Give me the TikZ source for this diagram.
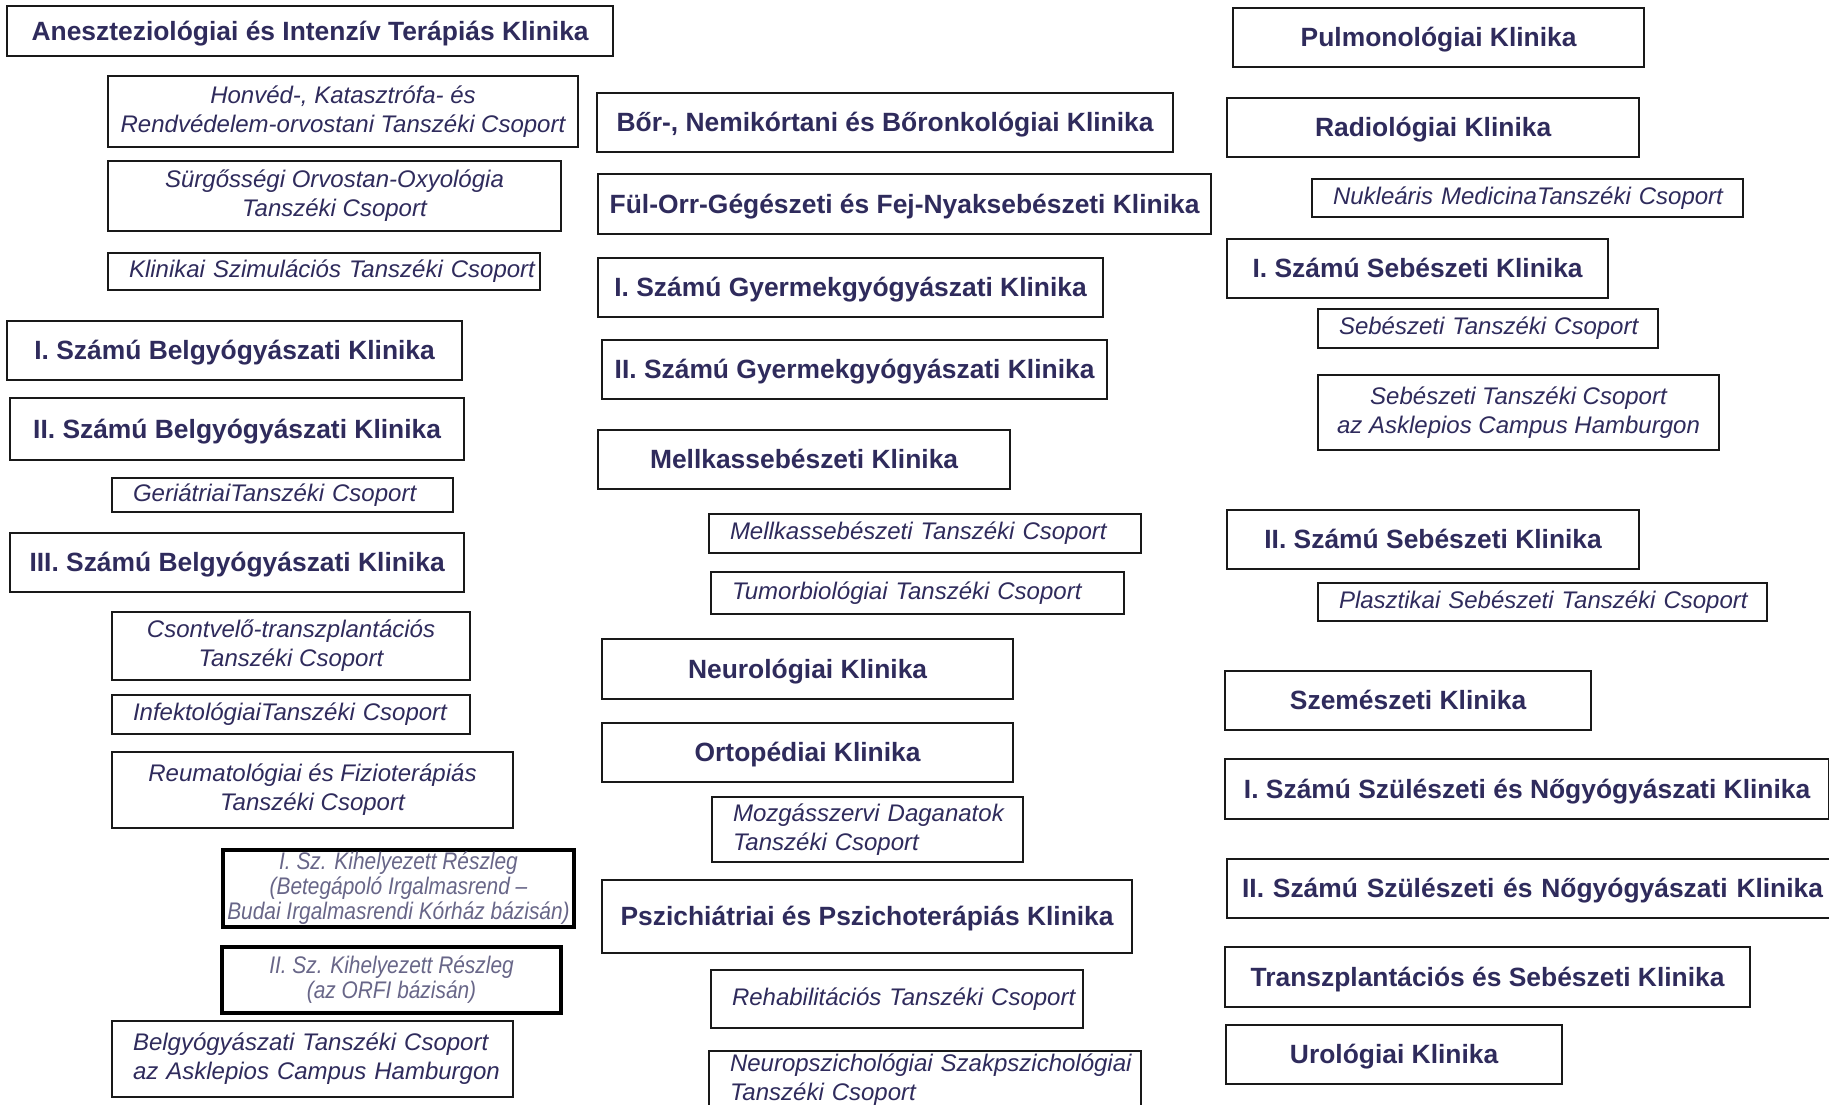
\documentclass[tikz,border=0pt]{standalone}
\usepackage{fontspec}
\setmainfont{Liberation Sans}
\newfontfamily\narrowfont[FakeStretch=0.87]{Liberation Sans}
\usepackage{xcolor}
\definecolor{klinikblue}{RGB}{47,43,92}
\definecolor{reszleggray}{RGB}{104,102,136}
\definecolor{framegray}{RGB}{25,25,25}

\tikzset{
  clinic/.style={draw=framegray, line width=2.2pt, anchor=north west, inner sep=2pt, align=center, text depth=0.12em, text=klinikblue, font=\fontsize{26.4}{30}\selectfont\bfseries},
  group/.style={draw=framegray, line width=2pt, anchor=north west, inner sep=2pt, align=center, text=klinikblue, font=\fontsize{24}{29}\selectfont\itshape},
  groupleft/.style={group, text width=#1, inner xsep=0pt, align=left, execute at begin node={\leftskip=21pt}},
  reszleg/.style={draw=black, line width=4pt, anchor=north west, inner sep=2pt, align=center, text=reszleggray, font=\narrowfont\fontsize{24}{25}\selectfont\itshape}
}

\begin{document}
\begin{tikzpicture}[x=1pt,y=-1pt]
    \useasboundingbox (0,0) rectangle (1829,1105);
    \fill[white] (0,0) rectangle (1829,1105);

    % Left column
    \node[clinic, minimum width=606pt, minimum height=50pt] (aneszt) at (6,5) {Aneszteziológiai és Intenzív Terápiás Klinika};
    \node[group, minimum width=470pt, minimum height=71pt] (honved) at (107,75) {Honvéd-, Katasztrófa- és\\Rendvédelem-orvostani Tanszéki Csoport};
    \node[group, minimum width=453pt, minimum height=70pt] (surgos) at (107,160) {Sürgősségi Orvostan-Oxyológia\\Tanszéki Csoport};
    \node[groupleft=432pt, minimum height=37pt] (szimul) at (107,252) {Klinikai Szimulációs Tanszéki Csoport};
    \node[clinic, minimum width=455pt, minimum height=59pt] (belgyI) at (6,320) {I. Számú Belgyógyászati Klinika};
    \node[clinic, minimum width=454pt, minimum height=62pt] (belgyII) at (9,397) {II. Számú Belgyógyászati Klinika};
    \node[groupleft=341pt, minimum height=34pt] (geriat) at (111,477) {GeriátriaiTanszéki Csoport};
    \node[clinic, minimum width=454pt, minimum height=59pt] (belgyIII) at (9,532) {III. Számú Belgyógyászati Klinika};
    \node[group, minimum width=358pt, minimum height=68pt] (csontv) at (111,611) {Csontvelő-transzplantációs\\Tanszéki Csoport};
    \node[groupleft=358pt, minimum height=39pt] (infekt) at (111,694) {InfektológiaiTanszéki Csoport};
    \node[group, minimum width=401pt, minimum height=76pt] (reuma) at (111,751) {Reumatológiai és Fizioterápiás\\Tanszéki Csoport};
    \node[reszleg, minimum width=351pt, minimum height=75pt] (reszlegI) at (221,848) {I. Sz. Kihelyezett Részleg\\(Betegápoló Irgalmasrend –\\Budai Irgalmasrendi Kórház bázisán)};
    \node[reszleg, minimum width=339pt, minimum height=66pt] (reszlegII) at (220,945) {II. Sz. Kihelyezett Részleg\\(az ORFI bázisán)};
    \node[groupleft=401pt, minimum height=76pt] (belgytcs) at (111,1020) {Belgyógyászati Tanszéki Csoport\\az Asklepios Campus Hamburgon};

    % Middle column
    \node[clinic, minimum width=576pt, minimum height=59pt] (bor) at (596,92) {Bőr-, Nemikórtani és Bőronkológiai Klinika};
    \node[clinic, minimum width=613pt, minimum height=60pt] (ful) at (597,173) {Fül-Orr-Gégészeti és Fej-Nyaksebészeti Klinika};
    \node[clinic, minimum width=505pt, minimum height=59pt] (gyermI) at (597,257) {I. Számú Gyermekgyógyászati Klinika};
    \node[clinic, minimum width=505pt, minimum height=59pt] (gyermII) at (601,339) {II. Számú Gyermekgyógyászati Klinika};
    \node[clinic, minimum width=412pt, minimum height=59pt] (mellkas) at (597,429) {Mellkassebészeti Klinika};
    \node[groupleft=432pt, minimum height=39pt] (mellktcs) at (708,513) {Mellkassebészeti Tanszéki Csoport};
    \node[groupleft=413pt, minimum height=42pt] (tumor) at (710,571) {Tumorbiológiai Tanszéki Csoport};
    \node[clinic, minimum width=411pt, minimum height=60pt] (neuro) at (601,638) {Neurológiai Klinika};
    \node[clinic, minimum width=411pt, minimum height=59pt] (orto) at (601,722) {Ortopédiai Klinika};
    \node[groupleft=311pt, minimum height=65pt] (mozgas) at (711,796) {Mozgásszervi Daganatok\\Tanszéki Csoport};
    \node[clinic, minimum width=530pt, minimum height=73pt] (pszich) at (601,879) {Pszichiátriai és Pszichoterápiás Klinika};
    \node[groupleft=372pt, minimum height=58pt] (rehab) at (710,969) {Rehabilitációs Tanszéki Csoport};
    \node[groupleft=432pt, minimum height=58pt] (neuropsz) at (708,1050) {Neuropszichológiai Szakpszichológiai\\Tanszéki Csoport};

    % Right column
    \node[clinic, minimum width=411pt, minimum height=59pt] (pulmo) at (1232,7) {Pulmonológiai Klinika};
    \node[clinic, minimum width=412pt, minimum height=59pt] (radio) at (1226,97) {Radiológiai Klinika};
    \node[groupleft=431pt, minimum height=38pt] (nukl) at (1311,178) {Nukleáris MedicinaTanszéki Csoport};
    \node[clinic, minimum width=381pt, minimum height=59pt] (sebI) at (1226,238) {I. Számú Sebészeti Klinika};
    \node[groupleft=340pt, minimum height=39pt] (sebtcs) at (1317,308) {Sebészeti Tanszéki Csoport};
    \node[group, minimum width=401pt, minimum height=75pt] (sebask) at (1317,374) {Sebészeti Tanszéki Csoport\\az Asklepios Campus Hamburgon};
    \node[clinic, minimum width=412pt, minimum height=59pt] (sebII) at (1226,509) {II. Számú Sebészeti Klinika};
    \node[groupleft=449pt, minimum height=38pt] (plaszt) at (1317,582) {Plasztikai Sebészeti Tanszéki Csoport};
    \node[clinic, minimum width=366pt, minimum height=59pt] (szem) at (1224,670) {Szemészeti Klinika};
    \node[clinic, minimum width=604pt, minimum height=60pt] (szulI) at (1224,758) {I. Számú Szülészeti és Nőgyógyászati Klinika};
    \node[clinic, text width=640pt, inner xsep=0pt, align=left, execute at begin node={\leftskip=15pt}, minimum height=59pt] (szulII) at (1226,858) {II. Számú Szülészeti és Nőgyógyászati Klinika};
    \node[clinic, minimum width=525pt, minimum height=60pt] (transz) at (1224,946) {Transzplantációs és Sebészeti Klinika};
    \node[clinic, minimum width=336pt, minimum height=59pt] (uro) at (1225,1024) {Urológiai Klinika};
\end{tikzpicture}
\end{document}
